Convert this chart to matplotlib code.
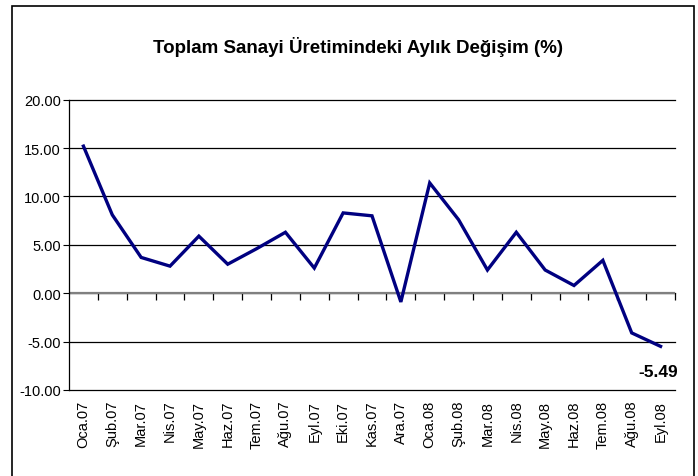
import numpy as np
import matplotlib.pyplot as plt
from matplotlib.patches import Rectangle

months = ['Oca.07', 'Şub.07', 'Mar.07', 'Nis.07', 'May.07', 'Haz.07', 'Tem.07',
          'Ağu.07', 'Eyl.07', 'Eki.07', 'Kas.07', 'Ara.07', 'Oca.08', 'Şub.08',
          'Mar.08', 'Nis.08', 'May.08', 'Haz.08', 'Tem.08', 'Ağu.08', 'Eyl.08']
change = [15.2, 8.1, 3.7, 2.8, 5.9, 3.0, 4.6, 6.3, 2.6, 8.3, 8.0, -0.9, 11.4,
          7.6, 2.4, 6.3, 2.4, 0.8, 3.4, -4.1, -5.49]
yticks = [-10, -5, 0, 5, 10, 15, 20]

plt.rcParams['font.family'] = ['Liberation Sans', 'DejaVu Sans']

W, H = 698, 477
fig = plt.figure(figsize=(W / 100, H / 100), dpi=100)
ax = fig.add_axes([69 / W, 1 - 391 / H, (675 - 69) / W, (391 - 100.7) / H])

x = np.arange(len(months))
ax.plot(x, change, color='#000080', lw=2.4, solid_joinstyle='miter', zorder=3)

ax.set_xlim(-0.5, len(months) - 0.5)
ax.set_ylim(-10, 20)
ax.set_yticks(yticks)
ax.set_yticklabels(['%.2f' % v for v in yticks], fontsize=10.5)
ax.tick_params(axis='y', length=4, width=0.8, color='black', pad=2)
for v in yticks:
    ax.axhline(v, color='black', lw=0.9, zorder=1, clip_on=False)
ax.axhline(0, color='#808080', lw=1.6, zorder=2)

ax.set_xticks(x)
ax.set_xticklabels(months, rotation=90, fontsize=10.5)
ax.tick_params(axis='x', length=0, pad=7)

# category separator ticks on the zero line
sec = ax.secondary_xaxis(1 / 3)
sec.set_xticks(x + 0.5)
sec.tick_params(axis='x', direction='out', length=5, width=0.9, labelbottom=False,
                labeltop=False, bottom=True, top=False)
sec.spines['bottom'].set_visible(False)
sec.spines['top'].set_visible(False)

for s in ['top', 'right', 'bottom']:
    ax.spines[s].set_visible(False)
ax.spines['left'].set_linewidth(0.9)

ax.annotate('%.2f' % change[-1], (x[-1], change[-1]), xytext=(-2, -18),
            textcoords='offset points', ha='center', va='center',
            fontsize=12.5, fontweight='bold')

fig.text(358 / W, 1 - 47 / H, 'Toplam Sanayi Üretimindeki Aylık Değişim (%)',
         ha='center', va='center', fontsize=13.5, fontweight='bold')

fig.patches.append(Rectangle((12 / W, -0.02), (694 - 12) / W, 1 - 7 / H + 0.02,
                             transform=fig.transFigure, fill=False,
                             edgecolor='black', lw=1.2))

fig.savefig('out.png', dpi=100)
